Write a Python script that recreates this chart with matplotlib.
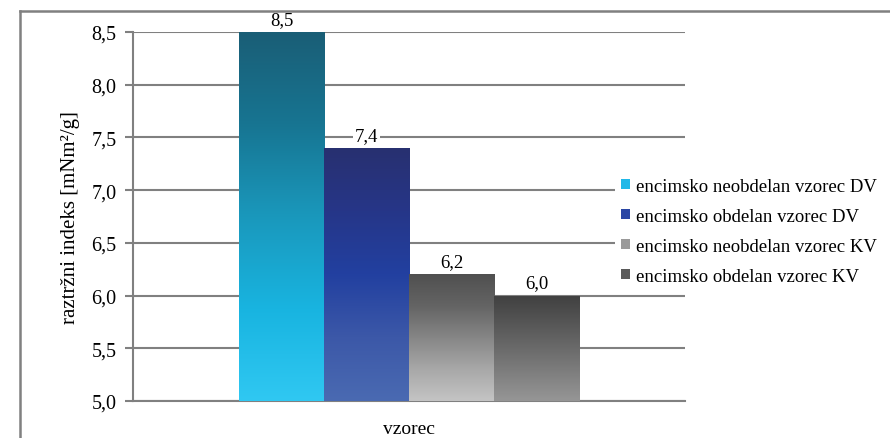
import numpy as np
import matplotlib.pyplot as plt
from matplotlib.colors import LinearSegmentedColormap
from matplotlib.patches import Rectangle
from matplotlib.lines import Line2D

plt.rcParams['font.family'] = ['Liberation Serif', 'DejaVu Serif']

# podatki
serije = ['encimsko neobdelan vzorec DV', 'encimsko obdelan vzorec DV',
          'encimsko neobdelan vzorec KV', 'encimsko obdelan vzorec KV']
vrednosti = [8.5, 7.4, 6.2, 6.0]
oznake = ['8,5', '7,4', '6,2', '6,0']
y_ticks = [5.0, 5.5, 6.0, 6.5, 7.0, 7.5, 8.0, 8.5]
y_tick_labels = ['5,0', '5,5', '6,0', '6,5', '7,0', '7,5', '8,0', '8,5']

# gradienti (spodaj -> zgoraj)
gradienti = [
    ['#30c8f2', '#18b4e0', '#1a98bc', '#177592', '#1a5e76'],
    ['#4a6ab2', '#3c58a8', '#2240a0', '#263688', '#283070'],
    ['#c4c4c4', '#a8a8a8', '#868686', '#646464', '#505050'],
    ['#969696', '#808080', '#6a6a6a', '#555555', '#404040'],
]
legenda_barve = ['#20b8e8', '#2a46a4', '#9a9a9a', '#5a5a5a']

fig = plt.figure(figsize=(8.9, 4.39), dpi=100)
ax = fig.add_axes([0.1494, 0.0843, 0.6204, 0.8405])

w = 85 / 552
odmiki = [-1.5 * w, -0.5 * w, 0.5 * w, 1.5 * w]
bars = ax.bar(odmiki, np.array(vrednosti) - 5.0, width=w, bottom=5.0,
              color='none', edgecolor='none', zorder=3)

for bar, g in zip(bars, gradienti):
    cmap = LinearSegmentedColormap.from_list('g', g)
    x0 = bar.get_x()
    y0 = bar.get_y()
    img = np.linspace(0, 1, 256).reshape(-1, 1)
    im = ax.imshow(img, cmap=cmap, origin='lower', aspect='auto',
                   extent=[x0, x0 + bar.get_width(), y0, y0 + bar.get_height()],
                   zorder=3)
    im.set_clip_path(bar)

for bar, t in zip(bars, oznake):
    ax.text(bar.get_x() + bar.get_width() / 2, bar.get_y() + bar.get_height() + 0.04, t,
            ha='center', va='bottom', fontsize=13.5, zorder=5,
            bbox=dict(facecolor='white', edgecolor='none', pad=1.5))

ax.set_xlim(-0.5, 0.5)
ax.set_ylim(5.0, 8.5)
ax.set_yticks(y_ticks)
ax.set_yticklabels(y_tick_labels, fontsize=14.5)
ax.set_xticks([0])
ax.set_xticklabels(['vzorec'], fontsize=14)
ax.tick_params(axis='x', length=0, pad=14)
ax.tick_params(axis='y', length=6, width=1.5, color='#808080', pad=6)
ax.yaxis.grid(True, color='#808080', linewidth=1.5, zorder=0)
ax.set_axisbelow(True)
for s in ['top', 'right']:
    ax.spines[s].set_visible(False)
for s in ['left', 'bottom']:
    ax.spines[s].set_color('#808080')
    ax.spines[s].set_linewidth(1.5)
ax.set_ylabel('raztržni indeks [mNm²/g]', fontsize=15, labelpad=8)

# legenda (bele ozadje prekrije mrezo)
rocaji = [Rectangle((0, 0), 1, 1, facecolor=c, edgecolor='none') for c in legenda_barve]
leg = fig.legend(rocaji, serije, loc='center left', bbox_to_anchor=(0.681, 0.471),
                 frameon=True, fancybox=False, facecolor='white', edgecolor='none',
                 framealpha=1, borderpad=0.3, fontsize=13.5, handlelength=0.45,
                 handleheight=0.45, handletextpad=0.35, labelspacing=0.7)

# okvir
fig.add_artist(Line2D([20 / 890, 1.0], [1 - 12 / 439, 1 - 12 / 439],
                      color='#808080', linewidth=1.8, transform=fig.transFigure))
fig.add_artist(Line2D([20 / 890, 20 / 890], [0, 1 - 12 / 439],
                      color='#808080', linewidth=1.8, transform=fig.transFigure))

fig.savefig('out.png', dpi=100)
